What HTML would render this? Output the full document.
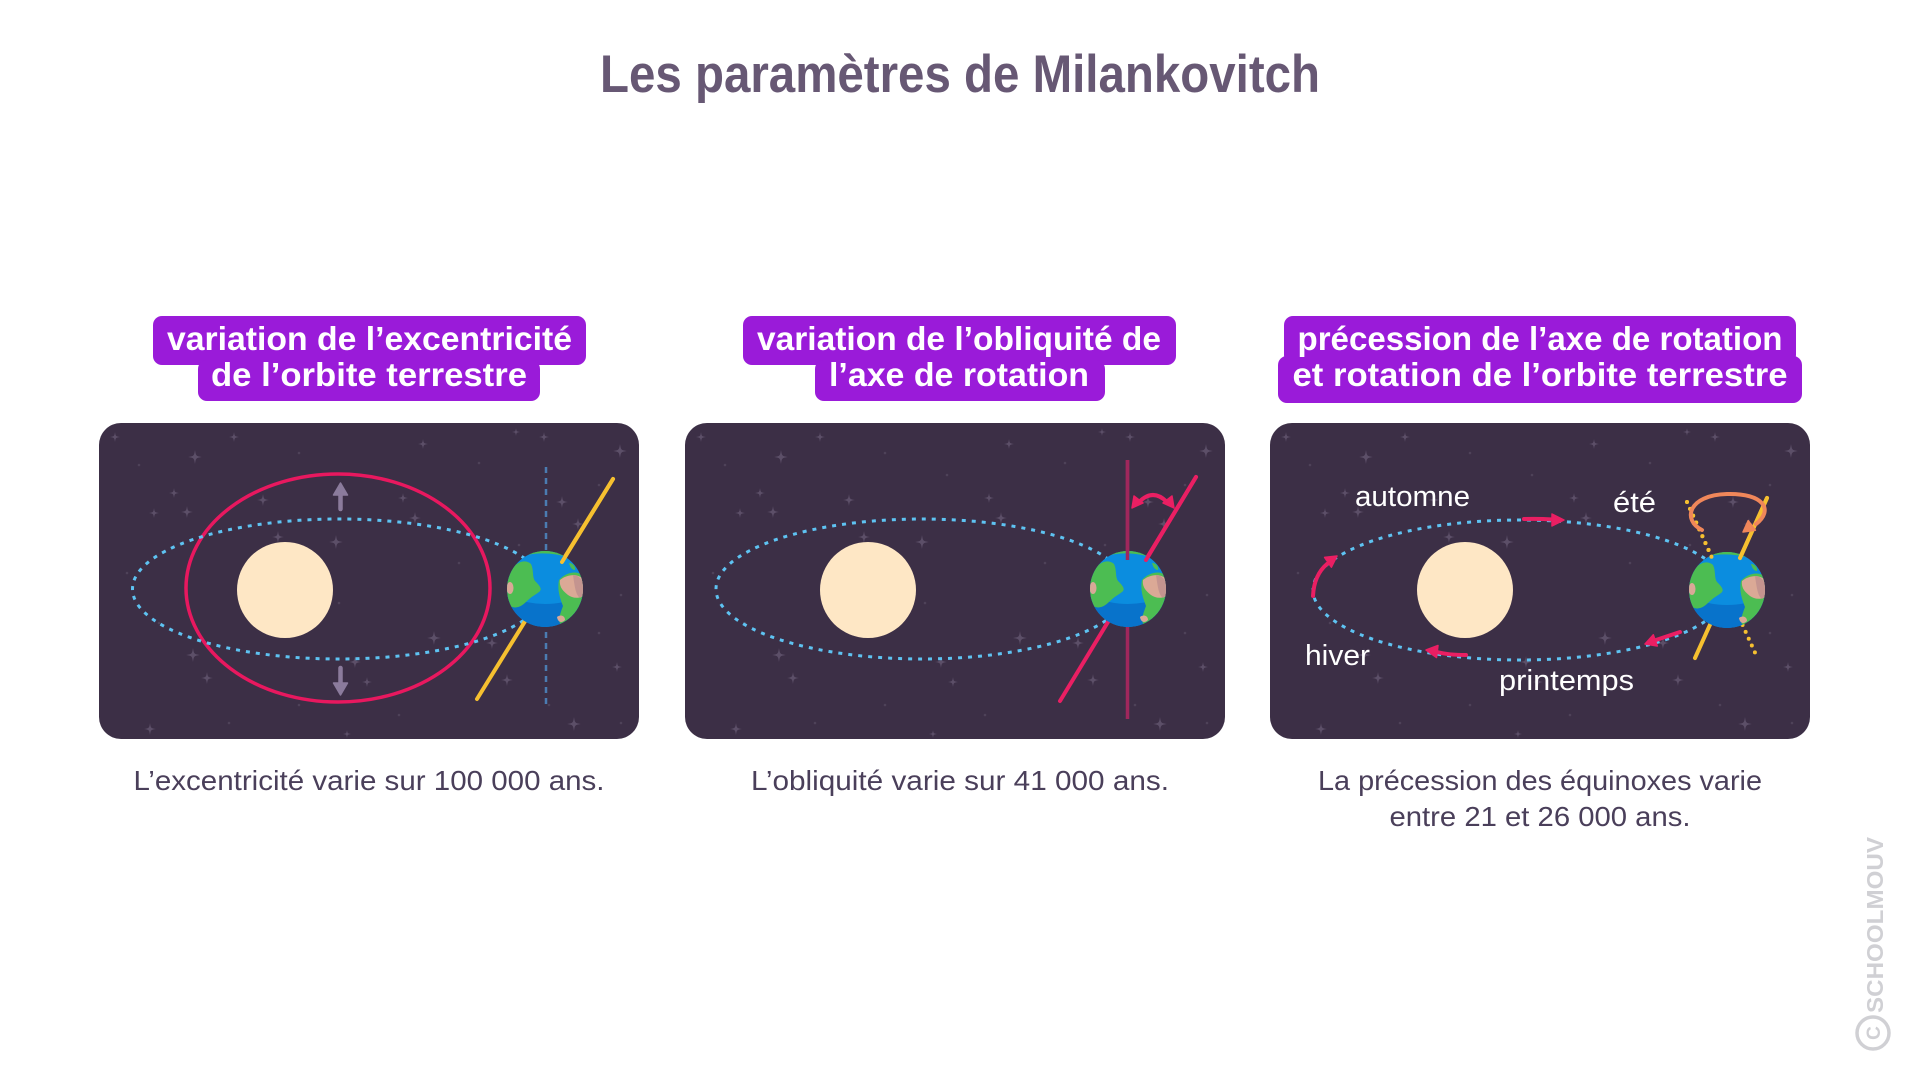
<!DOCTYPE html>
<html><head><meta charset="utf-8">
<style>
html,body{margin:0;padding:0;background:#ffffff;}
svg{display:block;}
text{font-family:"Liberation Sans",sans-serif;}
</style></head><body>
<svg width="1921" height="1080" viewBox="0 0 1921 1080" xmlns="http://www.w3.org/2000/svg">
<defs>
<path id="st" d="M0,-1 C0.14,-0.14 0.14,-0.14 1,0 C0.14,0.14 0.14,0.14 0,1 C-0.14,0.14 -0.14,0.14 -1,0 C-0.14,-0.14 -0.14,-0.14 0,-1Z" fill="#5c4f68"/>
<g id="stars">
<use href="#st" transform="translate(16,14) scale(5)"/>
<use href="#st" transform="translate(135,14) scale(5)"/>
<use href="#st" transform="translate(96,34) scale(7)"/>
<use href="#st" transform="translate(324,21) scale(5)"/>
<use href="#st" transform="translate(417,9) scale(4)"/>
<use href="#st" transform="translate(445,14) scale(5)"/>
<use href="#st" transform="translate(521,28) scale(7)"/>
<use href="#st" transform="translate(75,70) scale(5)"/>
<use href="#st" transform="translate(55,90) scale(5)"/>
<use href="#st" transform="translate(88,89) scale(6)"/>
<use href="#st" transform="translate(164,77) scale(6)"/>
<use href="#st" transform="translate(304,75) scale(5)"/>
<use href="#st" transform="translate(316,95) scale(6)"/>
<use href="#st" transform="translate(463,79) scale(6)"/>
<use href="#st" transform="translate(479,101) scale(6)"/>
<use href="#st" transform="translate(179,114) scale(6)"/>
<use href="#st" transform="translate(237,119) scale(7)"/>
<use href="#st" transform="translate(335,215) scale(7)"/>
<use href="#st" transform="translate(393,220) scale(6)"/>
<use href="#st" transform="translate(94,232) scale(7)"/>
<use href="#st" transform="translate(256,239) scale(6)"/>
<use href="#st" transform="translate(268,259) scale(5)"/>
<use href="#st" transform="translate(108,255) scale(6)"/>
<use href="#st" transform="translate(408,257) scale(6)"/>
<use href="#st" transform="translate(518,244) scale(5)"/>
<use href="#st" transform="translate(475,301) scale(7)"/>
<use href="#st" transform="translate(51,306) scale(6)"/>
<use href="#st" transform="translate(248,311) scale(4)"/>
<g fill="#4e4259">
<circle cx="40" cy="42" r="1.3"/><circle cx="200" cy="30" r="1.3"/><circle cx="262" cy="52" r="1.3"/>
<circle cx="380" cy="40" r="1.3"/><circle cx="500" cy="62" r="1.3"/><circle cx="28" cy="150" r="1.3"/>
<circle cx="150" cy="162" r="1.3"/><circle cx="420" cy="122" r="1.3"/><circle cx="522" cy="172" r="1.3"/>
<circle cx="60" cy="200" r="1.3"/><circle cx="200" cy="282" r="1.3"/><circle cx="300" cy="292" r="1.3"/>
<circle cx="450" cy="282" r="1.3"/><circle cx="522" cy="300" r="1.3"/><circle cx="240" cy="180" r="1.3"/>
<circle cx="360" cy="140" r="1.3"/><circle cx="130" cy="300" r="1.3"/><circle cx="500" cy="210" r="1.3"/>
</g>
</g>
<clipPath id="ec"><circle r="38"/></clipPath>
<g id="earth">
  <circle r="38" fill="#0b8ddf"/>
  <g clip-path="url(#ec)">
    <path d="M-40,6 Q0,24 40,6 L40,40 L-40,40Z" fill="#0873cb"/>
    <path d="M-22,-37 Q0,-44 26,-35 L26,-31 Q0,-39 -22,-33Z" fill="#4cbd52"/>
    <path d="M-35,-16 C-31,-26 -21,-31 -14,-25 C-11,-19 -13,-12 -10,-8 C-6,-4 -2,0 -6,3 C-10,6 -14,8 -18,12 C-22,16 -28,21 -35,17 C-39,8 -39,-8 -35,-16Z" fill="#4cbd52"/>
    <ellipse cx="-35" cy="-1" rx="3.5" ry="6" fill="#d9a897"/>
    <path d="M24,-26 C28,-26 31,-22 30,-19 C27,-19 25,-22 24,-26Z" fill="#4cbd52"/>
    <path d="M14,-9 C20,-16 31,-19 37,-14 C40,-6 41,6 39,14 C35,24 27,32 17,37 C12,33 15,25 18,17 C15,9 12,1 14,-9Z" fill="#4cbd52"/>
    <path d="M15,-9 C21,-14 31,-16 37,-11 C39,-4 40,2 38,7 C33,10 27,9 23,6 C18,2 14,-2 15,-9Z" fill="#dba996"/>
    <path d="M28,-14 C33,-14 37,-10 39,-4 C40,2 38,7 35,9 C31,6 30,0 28,-14Z" fill="#c4948f"/>
    <path d="M12,28 C16,25 20,27 20,31 C17,34 13,34 12,28Z" fill="#dba996"/>
  </g>
</g>
</defs>

<!-- Title -->
<text x="960" y="92" font-size="53" font-weight="bold" fill="#675874" text-anchor="middle" textLength="720" lengthAdjust="spacingAndGlyphs">Les paramètres de Milankovitch</text>

<!-- Label boxes -->
<g fill="#9a1bd9">
<rect x="153" y="316" width="433" height="49" rx="9"/>
<rect x="198" y="360" width="342" height="41" rx="9"/>
<rect x="743" y="316" width="433" height="49" rx="9"/>
<rect x="815" y="360" width="290" height="41" rx="9"/>
<rect x="1284" y="316" width="512" height="48" rx="9"/>
<rect x="1278" y="356" width="524" height="47" rx="9"/>
</g>
<g fill="#ffffff" font-size="33" font-weight="bold" text-anchor="middle">
<text x="369.5" y="350" textLength="405" lengthAdjust="spacingAndGlyphs">variation de l’excentricité</text>
<text x="369" y="386" textLength="316" lengthAdjust="spacingAndGlyphs">de l’orbite terrestre</text>
<text x="959" y="350" textLength="404" lengthAdjust="spacingAndGlyphs">variation de l’obliquité de</text>
<text x="959" y="386" textLength="260" lengthAdjust="spacingAndGlyphs">l’axe de rotation</text>
<text x="1540" y="350" textLength="485" lengthAdjust="spacingAndGlyphs">précession de l’axe de rotation</text>
<text x="1540" y="386" textLength="495" lengthAdjust="spacingAndGlyphs">et rotation de l’orbite terrestre</text>
</g>

<!-- Panels -->
<rect x="99" y="423" width="540" height="316" rx="22" fill="#3c2f46"/>
<rect x="685" y="423" width="540" height="316" rx="22" fill="#3c2f46"/>
<rect x="1270" y="423" width="540" height="316" rx="22" fill="#3c2f46"/>
<use href="#stars" transform="translate(99,423)"/>
<use href="#stars" transform="translate(685,423)"/>
<use href="#stars" transform="translate(1270,423)"/>

<!-- Panel 1 -->
<line x1="546" y1="467" x2="546" y2="708" stroke="#4b7cb2" stroke-width="2.5" stroke-dasharray="6 5"/>
<ellipse cx="338" cy="588" rx="152" ry="114" fill="none" stroke="#e8185f" stroke-width="3.5"/>
<ellipse cx="339" cy="589" rx="206.5" ry="70" fill="none" stroke="#5ec3f2" stroke-width="3" stroke-dasharray="4 6"/>
<line x1="613" y1="479" x2="477" y2="699" stroke="#f6c030" stroke-width="4" stroke-linecap="round"/>
<circle cx="285" cy="590" r="48" fill="#fee7c5"/>
<use href="#earth" transform="translate(545,589)"/>
<line x1="613" y1="479" x2="562" y2="562" stroke="#f6c030" stroke-width="4" stroke-linecap="round"/>
<g fill="#8b7b9c" stroke="#8b7b9c">
<line x1="340.5" y1="509" x2="340.5" y2="492" stroke-width="4.5" stroke-linecap="round"/>
<path d="M340.5,483 L333.5,495 L347.5,495Z" stroke-width="1.5" stroke-linejoin="round"/>
<line x1="340.5" y1="668" x2="340.5" y2="685" stroke-width="4.5" stroke-linecap="round"/>
<path d="M340.5,695 L333.5,683 L347.5,683Z" stroke-width="1.5" stroke-linejoin="round"/>
</g>

<!-- Panel 2 -->
<ellipse cx="922" cy="589" rx="206" ry="70" fill="none" stroke="#5ec3f2" stroke-width="3" stroke-dasharray="4 6"/>
<line x1="1127.5" y1="460" x2="1127.5" y2="719" stroke="#a0275c" stroke-width="3.5"/>
<line x1="1196" y1="477" x2="1060" y2="701" stroke="#ea1f63" stroke-width="4" stroke-linecap="round"/>
<circle cx="868" cy="590" r="48" fill="#fee7c5"/>
<use href="#earth" transform="translate(1128,589)"/>
<line x1="1127.5" y1="460" x2="1127.5" y2="560" stroke="#a0275c" stroke-width="3.5"/>
<line x1="1196" y1="477" x2="1146" y2="560" stroke="#ea1f63" stroke-width="4" stroke-linecap="round"/>
<path d="M1139,502 Q1153,488 1167,502" fill="none" stroke="#ea1f63" stroke-width="4" stroke-linecap="round"/>
<path d="M1132,508 L1134,496 L1143,503Z" fill="#ea1f63" stroke="#ea1f63" stroke-width="1.5" stroke-linejoin="round"/>
<path d="M1174,508 L1172,496 L1163,503Z" fill="#ea1f63" stroke="#ea1f63" stroke-width="1.5" stroke-linejoin="round"/>

<!-- Panel 3 -->
<ellipse cx="1520" cy="590" rx="207" ry="70" fill="none" stroke="#5ec3f2" stroke-width="3" stroke-dasharray="4 6"/>
<circle cx="1465" cy="590" r="48" fill="#fee7c5"/>
<line x1="1767" y1="498" x2="1695" y2="658" stroke="#f6c030" stroke-width="4" stroke-linecap="round"/>
<line x1="1687" y1="502" x2="1757" y2="657" stroke="#f6c030" stroke-width="4" stroke-linecap="round" stroke-dasharray="0 7.5"/>
<use href="#earth" transform="translate(1727,590)"/>
<line x1="1767" y1="498" x2="1740" y2="558" stroke="#f6c030" stroke-width="4" stroke-linecap="round"/>
<line x1="1687" y1="502" x2="1712" y2="558" stroke="#f6c030" stroke-width="4" stroke-linecap="round" stroke-dasharray="0 7.5"/>
<path d="M1702,530 C1682,520 1688,495 1727,494 C1764,493 1774,510 1756,524" fill="none" stroke="#f0875a" stroke-width="4" stroke-linecap="round"/>
<path d="M1743,532 L1748.2,520.6 L1755.4,530.2Z" fill="#f0875a" stroke="#f0875a" stroke-width="1.5" stroke-linejoin="round"/>

<g fill="#ea1f63" stroke="#ea1f63" stroke-linejoin="round">
<path d="M1524,519 Q1538,518.5 1553,519.5" fill="none" stroke-width="4" stroke-linecap="round"/>
<path d="M1564,520 L1552,514 L1552,526Z" stroke-width="1.5"/>
<path d="M1466,655 Q1448,655 1437,652" fill="none" stroke-width="4" stroke-linecap="round"/>
<path d="M1426,650 L1438,645.5 L1436.5,657.5Z" stroke-width="1.5"/>
<path d="M1313,596 Q1314,575 1327,564" fill="none" stroke-width="4" stroke-linecap="round"/>
<path d="M1337,556 L1331.4,567.2 L1324.6,557.4Z" stroke-width="1.5"/>
<path d="M1680,632 L1656,640" fill="none" stroke-width="4" stroke-linecap="round"/>
<path d="M1645,644 L1657.3,646 L1653.3,634.8Z" stroke-width="1.5"/>
</g>

<g fill="#ffffff" font-size="29">
<text x="1355" y="506" textLength="115" lengthAdjust="spacingAndGlyphs">automne</text>
<text x="1613" y="512" textLength="43" lengthAdjust="spacingAndGlyphs">été</text>
<text x="1305" y="665" textLength="65" lengthAdjust="spacingAndGlyphs">hiver</text>
<text x="1499" y="690" textLength="135" lengthAdjust="spacingAndGlyphs">printemps</text>
</g>

<!-- Captions -->
<g fill="#4a3f5a" font-size="28" text-anchor="middle">
<text x="369" y="790" textLength="471" lengthAdjust="spacingAndGlyphs">L’excentricité varie sur 100 000 ans.</text>
<text x="960" y="790" textLength="418" lengthAdjust="spacingAndGlyphs">L’obliquité varie sur 41 000 ans.</text>
<text x="1540" y="790" textLength="444" lengthAdjust="spacingAndGlyphs">La précession des équinoxes varie</text>
<text x="1540" y="826" textLength="301" lengthAdjust="spacingAndGlyphs">entre 21 et 26 000 ans.</text>
</g>

<!-- Watermark -->
<g transform="translate(1875,1013) rotate(-90)" fill="#d0d0d4">
<text x="0" y="8" font-size="23" font-weight="bold" textLength="176" lengthAdjust="spacingAndGlyphs">SCHOOLMOUV</text>
<circle cx="-20" cy="-2" r="16" fill="none" stroke="#d0d0d4" stroke-width="3.5"/>
<text x="-20" y="5" font-size="19" font-weight="bold" text-anchor="middle">C</text>
</g>
</svg>
</body></html>
